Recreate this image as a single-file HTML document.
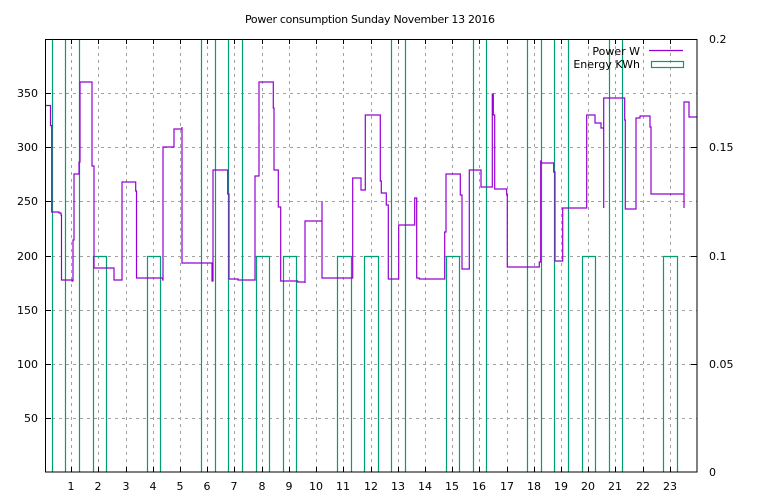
<!DOCTYPE html>
<html><head><meta charset="utf-8"><style>body{margin:0;background:#fff}svg{display:block}</style></head><body>
<svg width="768" height="500" xmlns="http://www.w3.org/2000/svg" font-family="DejaVu Sans, Liberation Sans, sans-serif" font-size="11">
<rect width="768" height="500" fill="#fff"/>
<g stroke="#a0a0a0" stroke-width="1" stroke-dasharray="3,4">
<path d="M45,418.5H697M45,364.5H697M45,310.5H697M45,256.5H697M45,201.5H697M45,147.5H697M45,93.5H697"/>
<path d="M71.5,39V472M98.5,39V472M126.5,39V472M153.5,39V472M180.5,39V472M207.5,39V472M234.5,39V472M262.5,39V472M289.5,39V472M316.5,39V472M343.5,39V472M371.5,39V472M398.5,39V472M425.5,39V472M452.5,39V472M479.5,39V472M507.5,39V472M534.5,39V472M561.5,39V472M588.5,39V472M615.5,39V472M643.5,39V472M670.5,39V472"/>
</g>
<g stroke="#000" stroke-width="1">
<path d="M45,418.5h6M45,364.5h6M45,310.5h6M45,256.5h6M45,201.5h6M45,147.5h6M45,93.5h6"/>
<path d="M697,39.5h-6M697,147.5h-6M697,256.5h-6M697,364.5h-6"/>
<path d="M71.5,472v-5M98.5,472v-5M126.5,472v-5M153.5,472v-5M180.5,472v-5M207.5,472v-5M234.5,472v-5M262.5,472v-5M289.5,472v-5M316.5,472v-5M343.5,472v-5M371.5,472v-5M398.5,472v-5M425.5,472v-5M452.5,472v-5M479.5,472v-5M507.5,472v-5M534.5,472v-5M561.5,472v-5M588.5,472v-5M615.5,472v-5M643.5,472v-5M670.5,472v-5"/>
<path d="M71.5,39v5M98.5,39v5M126.5,39v5M153.5,39v5M180.5,39v5M207.5,39v5M234.5,39v5M262.5,39v5M289.5,39v5M316.5,39v5M343.5,39v5M371.5,39v5M398.5,39v5M425.5,39v5M452.5,39v5M479.5,39v5M507.5,39v5M534.5,39v5M561.5,39v5M588.5,39v5M615.5,39v5M643.5,39v5M670.5,39v5"/>
</g>
<g fill="none" stroke="#009e73" stroke-width="1.2">
<path d="M52.5,472V39M65.5,472V39M79.5,472V39M201.5,472V39M215.5,472V39M228.5,472V39M242.5,472V39M391.5,472V39M405.5,472V39M473.5,472V39M486.5,472V39M527.5,472V39M541.5,472V39M554.5,472V39M568.5,472V39M609.5,472V39M622.5,472V39"/>
<path d="M93.5,472V256.5H106.5V472M147.5,472V256.5H160.5V472M256.5,472V256.5H269.5V472M283.5,472V256.5H296.5V472M337.5,472V256.5H351.5V472M364.5,472V256.5H378.5V472M446.5,472V256.5H459.5V472M582.5,472V256.5H595.5V472M663.5,472V256.5H677.5V472"/>
<rect x="651.5" y="61.5" width="32" height="6"/>
</g>
<path fill="none" stroke="#9400d3" stroke-width="1.2" d="M45,105.5H50.5V125.5H51.7V212H59V213H61V215H61.5V280H72V281H73V240H74V174H79V162H80V82H92V166H94V268H114V280H122V182H135.7V191H136.5V278H162.7V280H163V147H174V129H182V127H182V263H212V281H213V170H227.7V194H229V279H238V280H255V176H259V82H273.3V108H274V170H278.3V207H280.7V281H297.7V282H305V283V221H322V201V278H352.7V178H361V190H365.3V115H380.3V181H381.3V193H386.3V205H388.3V279H398.7V225H414.7V198H416.7V278H419.3V279H444.7V232H446V174H460.3V195H462V269H469.3V170H481V187H492.3V94H493.3V115H494.7V189H506.7V195H507.3V267H539.3V262H540.7V161H541V163H553.7V172H555V261H562.7V208H564H586.7V115H595V123H601V128H603.7V208V98H604.7H624.7V120H625.3V209H636V118H640V116H650V127H651V194H684V208V102H684.7H689V117H697"/>
<path stroke="#9400d3" stroke-width="1.2" d="M649,50.5H683"/>
<rect x="45.5" y="39.5" width="651.5" height="432.5" fill="none" stroke="#000" stroke-width="1"/>
<text x="370" y="23" text-anchor="middle" textLength="250">Power consumption Sunday November 13 2016</text>
<g text-anchor="end">
<text x="38" y="422">50</text><text x="38" y="368">100</text><text x="38" y="314">150</text><text x="38" y="260">200</text><text x="38" y="205">250</text><text x="38" y="151">300</text><text x="38" y="97">350</text>
<text x="640" y="55">Power W</text><text x="640" y="68">Energy KWh</text>
</g>
<g><text x="709" y="43">0.2</text><text x="709" y="151">0.15</text><text x="709" y="260">0.1</text><text x="709" y="368">0.05</text><text x="709" y="476">0</text></g>
<g text-anchor="middle">
<text x="71" y="490">1</text><text x="98" y="490">2</text><text x="126" y="490">3</text><text x="153" y="490">4</text><text x="180" y="490">5</text><text x="207" y="490">6</text><text x="234" y="490">7</text><text x="262" y="490">8</text><text x="289" y="490">9</text><text x="316" y="490">10</text><text x="343" y="490">11</text><text x="371" y="490">12</text><text x="398" y="490">13</text><text x="425" y="490">14</text><text x="452" y="490">15</text><text x="479" y="490">16</text><text x="507" y="490">17</text><text x="534" y="490">18</text><text x="561" y="490">19</text><text x="588" y="490">20</text><text x="615" y="490">21</text><text x="643" y="490">22</text><text x="670" y="490">23</text>
</g>
</svg>
</body></html>
